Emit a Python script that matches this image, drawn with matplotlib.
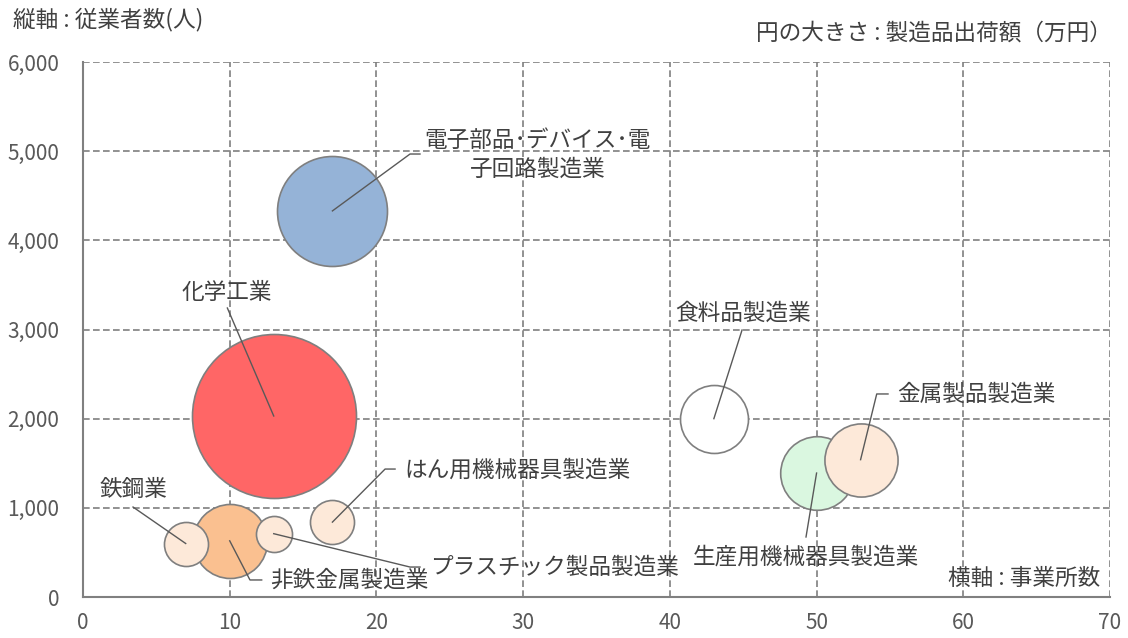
import numpy as np
import matplotlib.pyplot as plt

plt.rcParams['font.family'] = ['Noto Sans CJK JP', 'DejaVu Sans']

# industries
names = ['化学工業', '電子部品･デバイス･電\n子回路製造業', '非鉄金属製造業', '生産用機械器具製造業',
         '金属製品製造業', '食料品製造業', '鉄鋼業', 'はん用機械器具製造業', 'プラスチック製品製造業']
offices = [13, 17, 10, 50, 53, 43, 7, 17, 13]                      # 横軸: 事業所数
workers = [2030, 4330, 630, 1390, 1540, 2000, 600, 840, 710]        # 縦軸: 従業者数
shipments = [2690000, 1210000, 548000, 542000, 535000, 462000, 194000, 194000, 130000]  # 万円
colors = ['#FF6666', '#95B3D7', '#FAC090', '#DAF7E0', '#FDE9D9', '#FFFFFF', '#FDE9D9', '#FDE9D9', '#FDE9D9']

# label placement: text position, alignment, leader elbow points (data coords)
label_pos = {
    '化学工業': ((9.8, 3420), 'center', [(9.84, 3241)]),
    '電子部品･デバイス･電\n子回路製造業': ((31.0, 4960), 'center', [(22.29, 4968), (22.97, 4968)]),
    '非鉄金属製造業': ((12.75, 191), 'left', [(11.38, 191), (12.18, 191)]),
    '生産用機械器具製造業': ((49.28, 449), 'center', [(49.28, 673)]),
    '金属製品製造業': ((55.5, 2277), 'left', [(54.1, 2277), (54.87, 2277)]),
    '食料品製造業': ((45.0, 3185), 'center', [(44.92, 2994)]),
    '鉄鋼業': ((3.41, 1200), 'center', [(3.41, 1009)]),
    'はん用機械器具製造業': ((21.88, 1425), 'left', [(20.59, 1435), (21.27, 1435)]),
    'プラスチック製品製造業': ((23.65, 336), 'left', [(22.29, 336), (22.97, 336)]),
}

txt = '#404040'
grid_c = '#7F7F7F'
fs = 16.3

fig = plt.figure(figsize=(11.28, 6.38), dpi=100)
ax = fig.add_axes([83/1128, 41/638, 1027/1128, 535/638])

ax.set_xlim(0, 70)
ax.set_ylim(0, 6000)
ax.set_xticks(range(0, 71, 10))
ax.set_yticks(range(0, 6001, 1000))
ax.set_yticklabels([f'{v:,}' for v in range(0, 6001, 1000)])
ax.tick_params(length=0, labelsize=15, labelcolor='#595959')
ax.tick_params(axis='y', pad=17)
ax.tick_params(axis='x', pad=11)
ax.grid(True, color=grid_c, linestyle=(0, (4, 2)), linewidth=1.2)
ax.set_axisbelow(True)
for s in ['top', 'right']:
    ax.spines[s].set_visible(False)
for s in ['left', 'bottom']:
    ax.spines[s].set_color('#808080')
    ax.spines[s].set_linewidth(1.5)

dmax = 164 * 0.72  # largest bubble diameter in points
vmax = max(shipments)
sizes = [(dmax ** 2) * v / vmax for v in shipments]

for i in range(len(names)):
    ax.scatter(offices[i], workers[i], s=sizes[i], color=colors[i],
               edgecolors='#7F7F7F', linewidths=1.2, zorder=3 + i)

for i, name in enumerate(names):
    (tx, ty), ha, pts = label_pos[name]
    xs = [offices[i]] + [p[0] for p in pts]
    ys = [workers[i]] + [p[1] for p in pts]
    ax.plot(xs, ys, color='#595959', linewidth=1, zorder=20, clip_on=False)
    ax.text(tx, ty, name, ha=ha, va='center', fontsize=fs, color=txt,
            linespacing=1.3, zorder=21)

fig.text(13/1128, 1 - 20/638, '縦軸 : 従業者数(人)', ha='left', va='center', fontsize=fs, color=txt)
fig.text(1112/1128, 1 - 33/638, '円の大きさ : 製造品出荷額（万円）', ha='right', va='center', fontsize=fs, color=txt)
fig.text(1100/1128, 1 - 578/638, '横軸 : 事業所数', ha='right', va='center', fontsize=fs, color=txt)

fig.savefig('out.png', dpi=100)
